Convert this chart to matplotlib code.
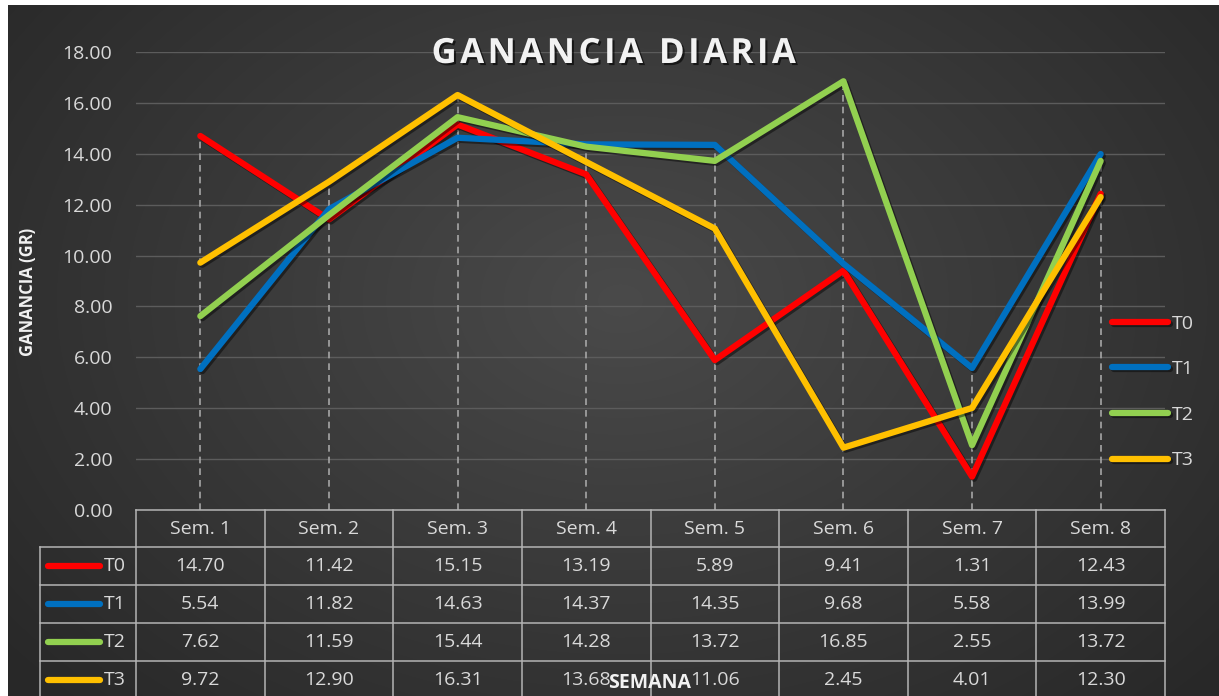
import numpy as np
import matplotlib
matplotlib.use("Agg")
import matplotlib.pyplot as plt
from matplotlib import patheffects as pe
from matplotlib.lines import Line2D
from matplotlib.ticker import FormatStrFormatter

plt.rcParams["font.family"] = ["Open Sans", "DejaVu Sans"]

W, H = 1219, 696

weeks = ["Sem. 1", "Sem. 2", "Sem. 3", "Sem. 4", "Sem. 5", "Sem. 6", "Sem. 7", "Sem. 8"]
series_names = ["T0", "T1", "T2", "T3"]
t0 = [14.70, 11.42, 15.15, 13.19, 5.89, 9.41, 1.31, 12.43]
t1 = [5.54, 11.82, 14.63, 14.37, 14.35, 9.68, 5.58, 13.99]
t2 = [7.62, 11.59, 15.44, 14.28, 13.72, 16.85, 2.55, 13.72]
t3 = [9.72, 12.90, 16.31, 13.68, 11.06, 2.45, 4.01, 12.30]
series = [t0, t1, t2, t3]
colors = ["#FF0000", "#0070C0", "#92D050", "#FFC000"]
y_ticks = [0, 2, 4, 6, 8, 10, 12, 14, 16, 18]
title = "GANANCIA DIARIA"

TEXT = "#d9d9d9"
BORDER = "#b4b4b4"


def fx(px):
    return px / W


def fy(py):
    return 1 - py / H


fig = plt.figure(figsize=(W / 100, H / 100), dpi=100)

# radial dark background, white strip on top/left like the screenshot
bg = fig.add_axes([0, 0, 1, 1], zorder=-10)
yy, xx = np.mgrid[0:H, 0:W]
r = np.sqrt(((xx - 620) / 780) ** 2 + ((yy - 300) / 560) ** 2)
shade = 0.29 - 0.13 * np.clip(r, 0, 1)
img = np.dstack([shade] * 3)
img[:5, :] = 1
img[:, :8] = 1
bg.imshow(img, aspect="auto", extent=(0, W, H, 0), interpolation="bilinear")
bg.set_xlim(0, W)
bg.set_ylim(H, 0)
bg.axis("off")

ax = fig.add_axes([fx(136), fy(510), fx(1165) - fx(136), fy(52) - fy(510)])
ax.set_facecolor("none")
ax.set_xlim(-0.5, len(weeks) - 0.5)
ax.set_ylim(0, 18)
ax.set_yticks(y_ticks)
ax.yaxis.set_major_formatter(FormatStrFormatter("%.2f"))
ax.yaxis.grid(True, color="#5c5c5c", lw=1)
ax.set_axisbelow(True)
ax.set_xticks([])
ax.tick_params(axis="y", length=0, pad=17, labelsize=14, labelcolor=TEXT)
for s in ax.spines.values():
    s.set_visible(False)

x = np.arange(len(weeks))
data = np.array(series)

# drop lines from the highest point down to the axis
ax.vlines(x, 0, data.max(axis=0), colors="#a6a6a6", linestyles=(0, (4, 3)), lw=1.2, zorder=2)

shadow = [pe.SimpleLineShadow(offset=(1.5, -1.5), alpha=0.45, shadow_color="black"), pe.Normal()]
handles = []
for i, (name, vals) in enumerate(zip(series_names, series)):
    (ln,) = ax.plot(x, vals, color=colors[i], lw=4.5, solid_capstyle="round",
                    solid_joinstyle="round", label=name, zorder=3 + i, path_effects=shadow)
    handles.append(ln)

# title (letter-spaced with hair spaces) and axis titles
spaced = "\u200a".join(title)
fig.text(fx(614), fy(54), spaced, fontsize=25, fontweight="bold", color="#f2f2f2",
         ha="center", va="center",
         path_effects=[pe.SimplePatchShadow(offset=(1.5, -1.5), shadow_rgbFace="black", alpha=0.6),
                       pe.Normal()])
fig.text(fx(28), fy(292), "GANANCIA (GR)", rotation=90, fontsize=12, fontweight="bold",
         color="#f2f2f2", ha="center", va="center")

# data table under the plot
edges = np.arange(len(weeks) + 1) - 0.5
to_fig = fig.transFigure.inverted()
col_edges = to_fig.transform(ax.transData.transform(np.c_[edges, np.zeros_like(edges)]))[:, 0]
col_mid = to_fig.transform(ax.transData.transform(np.c_[x, np.zeros_like(x)]))[:, 0]

head_top, head_bot, row_h = 510, 547, 38
fig.add_artist(Line2D([col_edges[0], col_edges[-1]], [fy(head_top)] * 2, color=BORDER, lw=1.1))
for k in range(len(series_names) + 1):
    yline = fy(head_bot + k * row_h)
    fig.add_artist(Line2D([fx(40), col_edges[-1]], [yline] * 2, color=BORDER, lw=1.1))
for ce in col_edges:
    fig.add_artist(Line2D([ce, ce], [fy(head_top), 0], color=BORDER, lw=1.1))
fig.add_artist(Line2D([fx(40), fx(40)], [fy(head_bot), 0], color=BORDER, lw=1.1))

for j, wk in enumerate(weeks):
    fig.text(col_mid[j], fy((head_top + head_bot) / 2), wk, fontsize=14, color=TEXT,
             ha="center", va="center")

for i, (name, vals) in enumerate(zip(series_names, series)):
    yc = fy(head_bot + i * row_h + row_h / 2)
    fig.add_artist(Line2D([fx(48), fx(100)], [yc, yc], color=colors[i], lw=4.5,
                          solid_capstyle="round"))
    fig.text(fx(104), yc, name, fontsize=14, color=TEXT, ha="left", va="center")
    for j, v in enumerate(vals):
        fig.text(col_mid[j], yc, f"{v:.2f}", fontsize=14, color=TEXT, ha="center", va="center")

fig.text(fx(650), fy(683), "SEMANA", fontsize=14, fontweight="bold", color="#f2f2f2",
         ha="center", va="center")

fig.legend(handles, series_names, loc="center left", bbox_to_anchor=(fx(1112), fy(392)),
           frameon=False, fontsize=14, labelcolor=TEXT, handlelength=2.9, handletextpad=0.2,
           labelspacing=1.42, borderpad=0, borderaxespad=0)

fig.savefig("out.png", dpi=100)
